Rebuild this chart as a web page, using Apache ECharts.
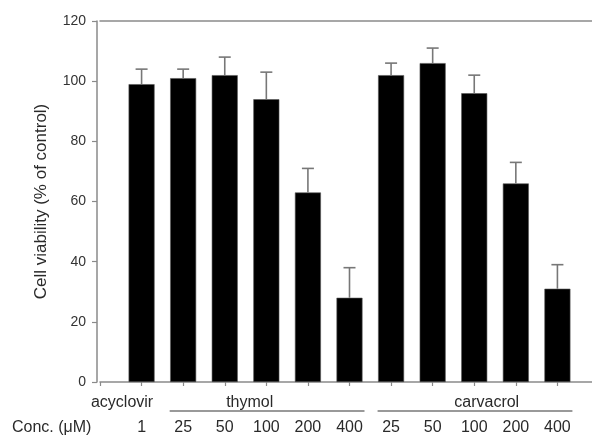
<!DOCTYPE html>
<html><head><meta charset="utf-8">
<script src="https://cdn.jsdelivr.net/npm/echarts@6/dist/echarts.min.js"></script>
<style>html,body{margin:0;padding:0;background:#fff;overflow:hidden}#c{width:612px;height:436px}</style>
</head><body><div id="c"></div>
<script>
// ---- data ----
const categories = ['acyclovir 1','thymol 25','thymol 50','thymol 100','thymol 200','thymol 400',
                    'carvacrol 25','carvacrol 50','carvacrol 100','carvacrol 200','carvacrol 400'];
const concLabels = ['1','25','50','100','200','400','25','50','100','200','400'];
const viability = [99, 101, 102, 94, 63, 28, 102, 106, 96, 66, 31];
const sdUpper   = [5, 3, 6, 9, 8, 10, 4, 5, 6, 7, 8];
const groupNames = ['acyclovir','thymol','carvacrol'];
const groupStart = [0, 1, 6];
const groupEnd   = [0, 5, 10];
const yTicks = [0, 20, 40, 60, 80, 100, 120];

// ---- chart ----
const FONT = 'Liberation Sans, Arial, sans-serif';
const TXT = '#2a2a2a';
const AX = '#8a8a8a';
const axisData = [''].concat(categories, ['']);
const labelData = [''].concat(concLabels, ['']);
const barData = ['-'].concat(viability, ['-']);
const errData = viability.map((v, i) => [i + 1, v, v + sdUpper[i]]);

const chart = echarts.init(document.getElementById('c'), null, {renderer: 'canvas'});
chart.setOption({
  animation: false,
  grid: {left: 100, top: 21, width: 499, bottom: 52, containLabel: false},
  xAxis: [{
    type: 'category', data: axisData, boundaryGap: false,
    axisLine: {lineStyle: {color: AX, width: 1.5}},
    axisTick: {show: true, length: 4, lineStyle: {color: AX, width: 1.2}},
    axisLabel: {interval: 0, margin: 38, fontSize: 16, color: TXT, fontFamily: FONT,
      formatter: (v, i) => labelData[i]},
    splitLine: {show: false}
  }, {
    type: 'category', data: axisData, boundaryGap: false, position: 'top',
    axisLine: {lineStyle: {color: AX, width: 1.5}},
    axisTick: {show: false}, axisLabel: {show: false}, splitLine: {show: false}
  }],
  yAxis: {
    type: 'value', min: yTicks[0], max: yTicks[yTicks.length - 1], interval: 20, offset: 3,
    name: 'Cell viability (% of control)', nameLocation: 'middle', nameGap: 47,
    nameRotate: 90,
    nameTextStyle: {fontSize: 17, color: TXT, fontFamily: FONT},
    axisLine: {show: true, lineStyle: {color: AX, width: 1.5}},
    axisTick: {show: true, length: 5, lineStyle: {color: AX, width: 1.2}},
    axisLabel: {fontSize: 14, color: '#333', fontFamily: FONT, margin: 11},
    splitLine: {show: false}
  },
  series: [{
    type: 'bar', data: barData, barWidth: 26,
    itemStyle: {color: '#000', borderColor: '#555', borderWidth: 0.6}, z: 2
  }, {
    type: 'custom', data: errData, z: 3,
    encode: {x: 0, y: [1, 2]},
    renderItem: function (params, api) {
      const base = api.coord([api.value(0), api.value(1)]);
      const top = api.coord([api.value(0), api.value(2)]);
      const st = {stroke: '#777', lineWidth: 1.6};
      return {type: 'group', children: [
        {type: 'line', shape: {x1: base[0], y1: base[1], x2: top[0], y2: top[1]}, style: st},
        {type: 'line', shape: {x1: top[0] - 6, y1: top[1], x2: top[0] + 6, y2: top[1]}, style: st}
      ]};
    }
  }]
});

// group labels, underlines and the "Conc." caption placed from the axis scale
const px = idx => chart.convertToPixel({gridIndex: 0}, [idx, 0]);
const labelShift = [-0.47, -0.4, 0.3];
const elements = [];
groupNames.forEach((name, g) => {
  const a = px(groupStart[g] + 1), b = px(groupEnd[g] + 1);
  const baseY = a[1];
  const mid = (groupStart[g] + groupEnd[g]) / 2 + 1 + labelShift[g];
  const lo = Math.floor(mid), fr = mid - lo;
  const mx = px(lo)[0] + (px(lo + 1)[0] - px(lo)[0]) * fr;
  elements.push({type: 'text', x: mx, y: baseY + 21,
    style: {text: name, fill: TXT, font: '16px ' + FONT, textAlign: 'center', textVerticalAlign: 'middle'}});
  if (groupEnd[g] > groupStart[g]) {
    elements.push({type: 'line', shape: {x1: a[0] - 13.5, y1: baseY + 29, x2: b[0] + 15, y2: baseY + 29},
      style: {stroke: '#777', lineWidth: 1.5}});
  }
});
elements.push({type: 'text', x: 12, y: px(0)[1] + 46,
  style: {text: 'Conc. (\u03bcM)', fill: TXT, font: '16px ' + FONT, textAlign: 'left', textVerticalAlign: 'middle'}});
chart.setOption({graphic: {elements: elements}});
</script>
</body></html>
